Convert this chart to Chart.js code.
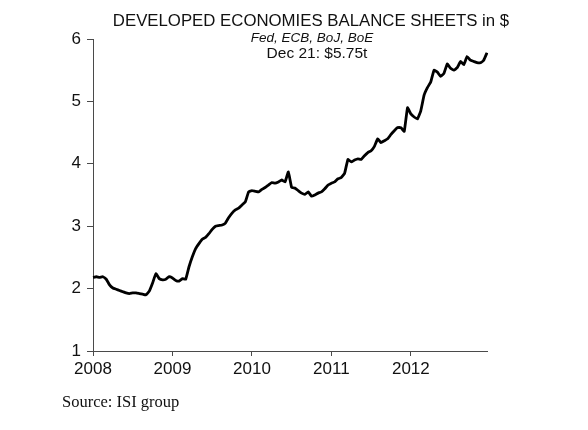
<!DOCTYPE html>
<html>
<head>
    <title>Developed Economies Balance Sheets</title>
    <script src="https://cdn.jsdelivr.net/npm/chart.js"></script>
    <style>
        body { margin: 0; background: #fff; }
        #box { position: relative; width: 588px; height: 430px; }
        .txt { position: absolute; white-space: nowrap; color: #111; line-height: 1; }
        .mid { transform: translateX(-50%); font-family: "Liberation Sans", Arial, sans-serif; }
    </style>
</head>
<body>
<div id="box">
    <canvas id="grafico" width="588" height="430"></canvas>
    <div class="txt mid" style="left:311px; top:13px; font-size:16.8px;">DEVELOPED ECONOMIES BALANCE SHEETS in $</div>
    <div class="txt mid" style="left:312px; top:31px; font-size:13.5px; font-style:italic;">Fed, ECB, BoJ, BoE</div>
    <div class="txt mid" style="left:317px; top:45px; font-size:15.5px;">Dec 21: $5.75t</div>
    <div class="txt" style="left:62px; top:394px; font-size:16.5px; font-family:'Liberation Serif', 'Times New Roman', serif;">Source: ISI group</div>
</div>
<script>
    // anos no eixo x, dois pontos por mes (inicio e meio do mes)
    const anos = ['2008', '2009', '2010', '2011', '2012'];
    const meses = ['Jan', 'Feb', 'Mar', 'Apr', 'May', 'Jun', 'Jul', 'Aug', 'Sep', 'Oct', 'Nov', 'Dec'];

    // balanco total em trilhoes de $
    const bs2008 = [2.18, 2.19, 2.18, 2.19, 2.15, 2.06, 2.01, 1.99, 1.97, 1.95, 1.93, 1.92,
                    1.93, 1.93, 1.92, 1.91, 1.90, 1.96, 2.09, 2.24, 2.16, 2.14, 2.15, 2.19];
    const bs2009 = [2.17, 2.13, 2.12, 2.16, 2.15, 2.35, 2.51, 2.64, 2.72, 2.79, 2.82, 2.88,
                    2.95, 3.00, 3.01, 3.02, 3.05, 3.14, 3.21, 3.26, 3.29, 3.34, 3.39, 3.55];
    const bs2010 = [3.57, 3.56, 3.55, 3.59, 3.62, 3.66, 3.70, 3.69, 3.71, 3.74, 3.71, 3.87,
                    3.62, 3.61, 3.57, 3.53, 3.51, 3.55, 3.48, 3.50, 3.53, 3.55, 3.60, 3.66];
    const bs2011 = [3.69, 3.71, 3.76, 3.78, 3.85, 4.07, 4.03, 4.06, 4.08, 4.07, 4.13, 4.18,
                    4.21, 4.28, 4.40, 4.34, 4.37, 4.40, 4.47, 4.53, 4.58, 4.58, 4.52, 4.90];
    const bs2012 = [4.80, 4.75, 4.72, 4.85, 5.10, 5.22, 5.31, 5.50, 5.47, 5.40, 5.45, 5.60,
                    5.53, 5.50, 5.54, 5.64, 5.59, 5.72, 5.66, 5.64, 5.62, 5.62, 5.66, 5.78];

    const yTicks = [1, 2, 3, 4, 5, 6];

    const rotulos = [];
    anos.forEach(ano => {
        meses.forEach(m => {
            rotulos.push(m + ' ' + ano);
            rotulos.push('mid ' + m + ' ' + ano);
        });
    });
    const valores = [].concat(bs2008, bs2009, bs2010, bs2011, bs2012);

    const fonte = { family: '"Liberation Sans", Arial, sans-serif', size: 17 };
    const cinza = '#4a4a4a';

    const ctx = document.getElementById('grafico').getContext('2d');
    new Chart(ctx, {
        type: 'line',
        data: {
            labels: rotulos,
            datasets: [{
                data: valores,
                borderColor: '#000',
                borderWidth: 2.8,
                pointRadius: 0,
                tension: 0.1,
                fill: false
            }]
        },
        options: {
            responsive: false,
            animation: false,
            layout: { padding: { left: 0, right: 101, top: 39, bottom: 0 } },
            plugins: {
                legend: { display: false },
                tooltip: { enabled: false }
            },
            scales: {
                x: {
                    type: 'category',
                    offset: false,
                    afterFit: scale => { scale.height = 79; },
                    border: { display: true, color: cinza, width: 1 },
                    grid: {
                        display: true,
                        drawOnChartArea: false,
                        drawTicks: true,
                        tickLength: 5,
                        tickColor: c => (c.index % 24 === 0 ? cinza : 'rgba(0,0,0,0)')
                    },
                    ticks: {
                        autoSkip: false,
                        maxRotation: 0,
                        color: '#111',
                        font: fonte,
                        padding: 3,
                        callback: function (v, i) {
                            const l = this.getLabelForValue(v);
                            return l.startsWith('Jan ') ? l.slice(4) : '';
                        }
                    }
                },
                y: {
                    min: yTicks[0],
                    max: yTicks[yTicks.length - 1],
                    afterFit: scale => { scale.width = 93; },
                    afterBuildTicks: scale => { scale.ticks = yTicks.map(v => ({ value: v })); },
                    border: { display: true, color: cinza, width: 1 },
                    grid: {
                        display: true,
                        drawOnChartArea: false,
                        drawTicks: true,
                        tickLength: 6,
                        tickColor: cinza
                    },
                    ticks: {
                        color: '#111',
                        font: fonte,
                        padding: 6
                    }
                }
            }
        }
    });
</script>
</body>
</html>
